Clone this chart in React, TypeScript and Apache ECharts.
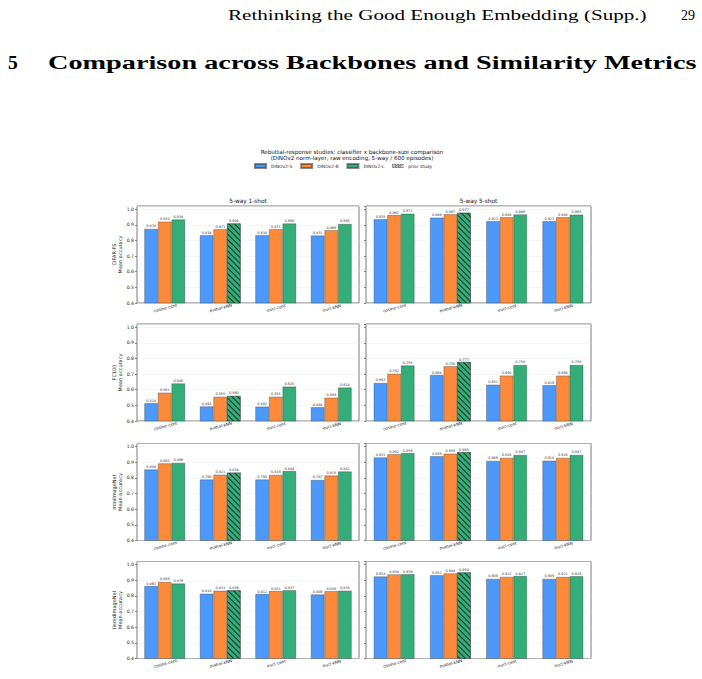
import React, { useEffect, useRef } from "react";
import * as echarts from "echarts";

// ---------- data ----------
const categories = ["cosine-cent", "mahal-kNN", "eucl-cent", "eucl-kNN"];
const backbones = ["DINOv2-S", "DINOv2-B", "DINOv2-L"];
const priorLabel = "prior study";
const datasets = ["CIFAR-FS", "FC100", "miniImageNet", "tieredImageNet"];
const shotTitles = ["5-way 1-shot", "5-way 5-shot"];
const yTicks = [0.4, 0.5, 0.6, 0.7, 0.8, 0.9, 1.0];

// rows: [DINOv2-S, DINOv2-B, DINOv2-L], values per category
const cifarFs1Shot = [
  [0.874, 0.834, 0.834, 0.831],
  [0.92, 0.871, 0.871, 0.866],
  [0.934, 0.908, 0.908, 0.905],
];
const cifarFs5Shot = [
  [0.935, 0.946, 0.923, 0.923],
  [0.962, 0.967, 0.948, 0.948],
  [0.971, 0.977, 0.966, 0.965],
];
const fc100_1Shot = [
  [0.514, 0.493, 0.492, 0.488],
  [0.581, 0.555, 0.555, 0.549],
  [0.64, 0.56, 0.62, 0.614],
];
const fc100_5Shot = [
  [0.643, 0.694, 0.632, 0.629],
  [0.702, 0.75, 0.69, 0.69],
  [0.755, 0.777, 0.758, 0.758],
];
const mini1Shot = [
  [0.854, 0.79, 0.79, 0.787],
  [0.893, 0.821, 0.819, 0.815],
  [0.896, 0.834, 0.844, 0.841],
];
const mini5Shot = [
  [0.931, 0.939, 0.909, 0.91],
  [0.952, 0.955, 0.928, 0.928],
  [0.959, 0.965, 0.947, 0.947],
];
const tiered1Shot = [
  [0.863, 0.814, 0.812, 0.809],
  [0.889, 0.833, 0.831, 0.83],
  [0.879, 0.836, 0.837, 0.834],
];
const tiered5Shot = [
  [0.924, 0.932, 0.909, 0.909],
  [0.938, 0.944, 0.922, 0.921],
  [0.939, 0.95, 0.927, 0.926],
];
const panels = [
  [cifarFs1Shot, cifarFs5Shot],
  [fc100_1Shot, fc100_5Shot],
  [mini1Shot, mini5Shot],
  [tiered1Shot, tiered5Shot],
];
// the "prior study" bar: backbone index / category index
const priorBackbone = 2;
const priorCategory = 1;

const headerText = "Rethinking the Good Enough Embedding (Supp.)";
const pageNumber = "29";
const sectionNumber = "5";
const sectionText = "Comparison across Backbones and Similarity Metrics";
const supTitle1 = "Rebuttal-response studies: classifier x backbone-size comparison";
const supTitle2 = "(DINOv2 norm-layer, raw encoding, 5-way / 600 episodes)";

// ---------- styles ----------
const colors = ["#4C99FB", "#FC8A3A", "#35AD78"];
const SANS = "DejaVu Sans";
const SERIF = "Liberation Serif";
const colLeft = [137, 366];
const colWidth = [222, 225];
const rowTop = [206, 324, 443.5, 561.5];
const plotHeight = 97;

const hatch = {
  symbol: "rect",
  symbolSize: 1,
  color: "rgba(0,0,0,0.7)",
  dashArrayX: [1, 0],
  dashArrayY: [1, 3],
  rotation: Math.PI / 4,
};

// legend icon for the hatched entry: frame + diagonal stripes (filled shapes)
function hatchIconPath() {
  let d = "M0,0H110V5H0Z M0,35H110V40H0Z M0,0H5V40H0Z M105,0H110V40H105Z";
  for (let k = 0; k <= 62; k += 15.5) {
    d += ` M${k},40L${k + 7},40L${k + 47},0L${k + 40},0Z`;
  }
  return "path://" + d;
}

function fitScale(text: string, font: string, target: number) {
  const ctx = document.createElement("canvas").getContext("2d");
  if (!ctx) return 1;
  ctx.font = font;
  const w = ctx.measureText(text).width;
  return w > 0 ? target / w : 1;
}

export default function App() {
  const ref = useRef<HTMLDivElement>(null);
  useEffect(() => {
    if (!ref.current) return;
    const chart = echarts.init(ref.current, undefined, { renderer: "svg" });

    const grids: any[] = [];
    const xAxes: any[] = [];
    const yAxes: any[] = [];
    const series: any[] = [];

    panels.forEach((row, r) => {
      row.forEach((vals, c) => {
        const i = r * 2 + c;
        grids.push({
          left: colLeft[c],
          top: rowTop[r],
          width: colWidth[c],
          height: plotHeight,
          show: true,
          borderColor: "#555",
          borderWidth: 0.8,
          backgroundColor: "transparent",
        });
        xAxes.push({
          gridIndex: i,
          type: "category",
          data: categories,
          axisLine: { show: false },
          axisTick: { alignWithLabel: true, length: 2, lineStyle: { color: "#333", width: 0.6 } },
          axisLabel: {
            rotate: 15,
            fontSize: 4.2,
            color: "#222",
            margin: 3,
            fontFamily: SANS,
            align: "center",
            verticalAlign: "top",
          },
        });
        yAxes.push({
          gridIndex: i,
          type: "value",
          min: yTicks[0],
          max: 1.02,
          interval: 0.1,
          axisLine: { show: false },
          axisTick: { show: true, length: 2, lineStyle: { color: "#333", width: 0.6 } },
          axisLabel: {
            show: c === 0,
            fontSize: 4.6,
            color: "#222",
            margin: 3,
            fontFamily: SANS,
            showMaxLabel: false,
            formatter: (v: number) => v.toFixed(1),
          },
          splitLine: { show: true, lineStyle: { color: "#ececec", width: 0.5 } },
          name: c === 0 ? `${datasets[r]}\nMean accuracy` : "",
          nameLocation: "middle",
          nameGap: 11,
          nameRotate: 90,
          nameTextStyle: { fontSize: 5, color: "#222", fontFamily: SANS, lineHeight: 6 },
        });
        vals.forEach((arr, b) => {
          series.push({
            type: "bar",
            name: backbones[b],
            xAxisIndex: i,
            yAxisIndex: i,
            barWidth: 13.6,
            barGap: "0%",
            itemStyle: { color: colors[b], borderColor: "rgba(60,60,60,0.6)", borderWidth: 0.6 },
            label: {
              show: true,
              position: "top",
              distance: 1,
              fontSize: 3.4,
              color: "#333",
              fontFamily: SANS,
              formatter: (p: any) => Number(p.value).toFixed(3),
            },
            data: arr.map((v, k) =>
              b === priorBackbone && k === priorCategory
                ? { value: v, itemStyle: { decal: hatch } }
                : v
            ),
          });
        });
      });
    });

    // hidden grid holding an empty series, only for the "prior study" legend entry
    grids.push({ left: -100, top: -100, width: 10, height: 10, show: false });
    xAxes.push({ gridIndex: 8, type: "category", data: categories, show: false });
    yAxes.push({ gridIndex: 8, type: "value", show: false });
    series.push({
      type: "bar",
      name: priorLabel,
      xAxisIndex: 8,
      yAxisIndex: 8,
      data: [],
      itemStyle: { color: "#2a2a2a" },
    });

    const hFont = `14px "${SERIF}"`;
    const sFont = `bold 19.5px "${SERIF}"`;
    const headerScale = fitScale(headerText, hFont, 419);
    const sectionScale = fitScale(sectionText, sFont, 649);

    const graphic: any[] = [
      {
        type: "text",
        x: 228,
        y: 15,
        scaleX: headerScale,
        style: { text: headerText, font: hFont, fill: "#000", align: "left", verticalAlign: "middle" },
      },
      {
        type: "text",
        x: 695,
        y: 15,
        style: { text: pageNumber, font: hFont, fill: "#000", align: "right", verticalAlign: "middle" },
      },
      {
        type: "text",
        x: 8,
        y: 62,
        style: { text: sectionNumber, font: sFont, fill: "#000", align: "left", verticalAlign: "middle" },
      },
      {
        type: "text",
        x: 48,
        y: 62,
        scaleX: sectionScale,
        style: { text: sectionText, font: sFont, fill: "#000", align: "left", verticalAlign: "middle" },
      },
      {
        type: "text",
        x: 352,
        y: 151.5,
        style: { text: supTitle1, font: `5.6px "${SANS}"`, fill: "#111", align: "center", verticalAlign: "middle" },
      },
      {
        type: "text",
        x: 352,
        y: 158,
        style: { text: supTitle2, font: `5.6px "${SANS}"`, fill: "#111", align: "center", verticalAlign: "middle" },
      },
    ];
    shotTitles.forEach((t, c) => {
      graphic.push({
        type: "text",
        x: colLeft[c] + colWidth[c] / 2,
        y: rowTop[0] - 5,
        style: { text: t, font: `5.8px "${SANS}"`, fill: "#111", align: "center", verticalAlign: "middle" },
      });
    });

    chart.setOption({
      animation: false,
      backgroundColor: "#fff",
      legend: {
        data: [
          ...backbones,
          { name: priorLabel, icon: hatchIconPath() },
        ],
        left: 254,
        top: 163,
        padding: 0,
        icon: "rect",
        itemWidth: 11,
        itemHeight: 4,
        itemGap: 8,
        textStyle: { fontSize: 4.4, color: "#222", fontFamily: SANS },
      },
      grid: grids,
      xAxis: xAxes,
      yAxis: yAxes,
      series,
      graphic,
    });
    return () => chart.dispose();
  }, []);
  return (
    <div
      ref={ref}
      style={{ position: "absolute", left: 0, top: 0, width: 702, height: 679, background: "#fff" }}
    />
  );
}
